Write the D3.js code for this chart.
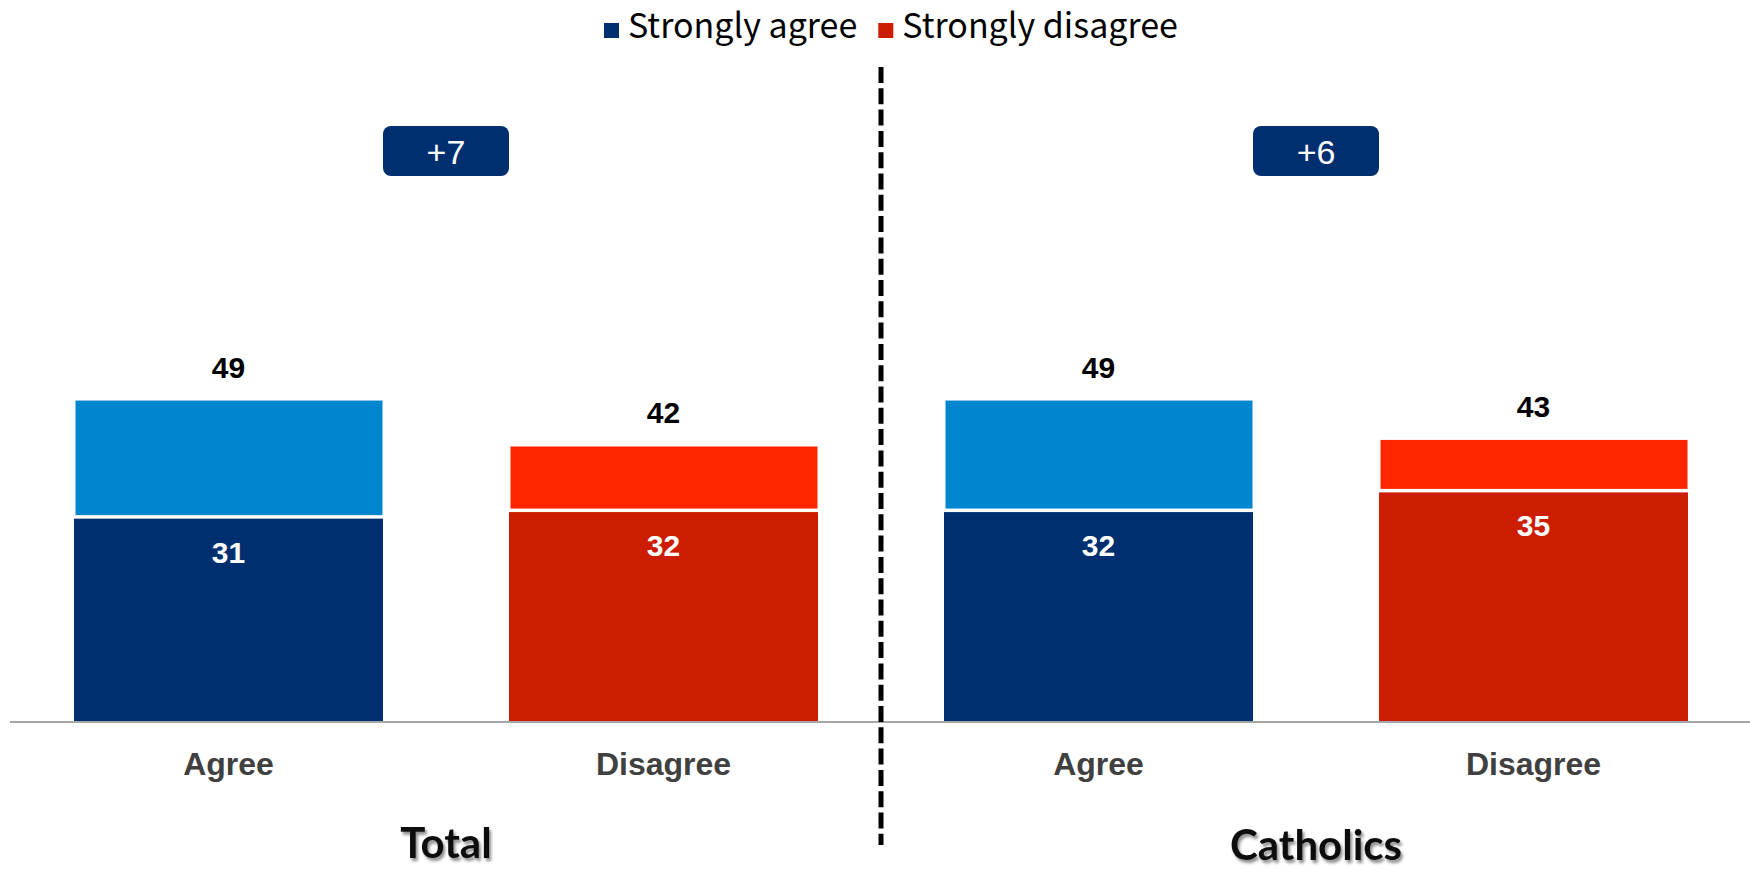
<!DOCTYPE html>
<html>
<head>
<meta charset="utf-8">
<script src="https://cdn.jsdelivr.net/npm/d3@7"></script>
<style>
  html, body { margin: 0; padding: 0; background: #fff; }
  svg { display: block; }
</style>
</head>
<body>
<svg id="chart" width="1750" height="870"></svg>
<script>
// ---- data ----
const groups = ["Total", "Catholics"];
const categories = ["Agree", "Disagree"];
const strongValues = [31, 32, 32, 35];   // Total/Agree, Total/Disagree, Catholics/Agree, Catholics/Disagree
const totalValues  = [49, 42, 49, 43];
const netLabels = ["+7", "+6"];
const legendLabels = ["Strongly agree", "Strongly disagree"];

// ---- styles ----
const darkColors  = { Agree: "#002f6f", Disagree: "#cc1d00" };
const lightColors = { Agree: "#0085cf", Disagree: "#ff2600" };

const svg = d3.select("#chart");

const rows = [];
groups.forEach((g, gi) => categories.forEach((c, ci) => {
  const i = gi * categories.length + ci;
  rows.push({ key: g + "|" + c, group: g, cat: c, strong: strongValues[i], total: totalValues[i] });
}));

const x = d3.scaleBand().domain(rows.map(d => d.key)).range([11, 1751])
  .paddingInner(0.2897).paddingOuter(0.1448);
const y = d3.scaleLinear().domain([0, 100]).range([722, 66]);

// shadow filter for group titles
const defs = svg.append("defs");
const f = defs.append("filter").attr("id", "shadow").attr("x", "-20%").attr("y", "-20%").attr("width", "140%").attr("height", "160%");
f.append("feDropShadow").attr("dx", 2).attr("dy", 3).attr("stdDeviation", 1.6)
  .attr("flood-color", "#000").attr("flood-opacity", 0.45);

// bars
const bars = svg.append("g");
rows.forEach(d => {
  const x0 = x(d.key), bw = x.bandwidth();
  bars.append("rect")
    .attr("x", x0 + 1.5).attr("width", bw - 2)
    .attr("y", y(d.total)).attr("height", Math.max(0, y(d.strong) - y(d.total) - 3.5))
    .attr("fill", lightColors[d.cat]);
  bars.append("rect")
    .attr("x", x0).attr("width", bw)
    .attr("y", y(d.strong)).attr("height", y(0) - y(d.strong))
    .attr("fill", darkColors[d.cat]);
  bars.append("text")
    .attr("x", x0 + bw / 2).attr("y", y(d.total) - 23)
    .attr("text-anchor", "middle")
    .attr("font-family", "Liberation Sans, Arial, sans-serif")
    .attr("font-weight", "bold").attr("font-size", 30).attr("fill", "#000")
    .text(d.total);
  bars.append("text")
    .attr("x", x0 + bw / 2).attr("y", y(d.strong) + 44)
    .attr("text-anchor", "middle")
    .attr("font-family", "Liberation Sans, Arial, sans-serif")
    .attr("font-weight", "bold").attr("font-size", 30).attr("fill", "#fff")
    .text(d.strong);
});

// baseline axis
const xAxis = d3.axisBottom(x).tickSize(0).tickPadding(0).tickFormat(k => k.split("|")[1]);
const ax = svg.append("g").attr("transform", `translate(0,${y(0)})`).call(xAxis);
ax.select(".domain").attr("stroke", "#a6a6a6").attr("stroke-width", 2).attr("d", `M10,0H1750`);
ax.selectAll(".tick text")
  .attr("y", 53).attr("dy", null)
  .attr("font-family", "Liberation Sans, Arial, sans-serif")
  .attr("font-weight", "bold").attr("font-size", 32).attr("fill", "#404040");

// divider dashed line
const midX = (x(rows[1].key) + x.bandwidth() + x(rows[2].key)) / 2;
svg.append("line")
  .attr("x1", midX).attr("x2", midX).attr("y1", 67).attr("y2", 845)
  .attr("stroke", "#000").attr("stroke-width", 5).attr("stroke-dasharray", "16,5.3");

// group titles & net badges
const titleY = [858, 860];
groups.forEach((g, gi) => {
  const first = x(rows[gi * 2].key), last = x(rows[gi * 2 + 1].key) + x.bandwidth();
  const cx = (first + last) / 2;
  svg.append("text")
    .attr("x", cx).attr("y", titleY[gi]).attr("text-anchor", "middle")
    .attr("font-family", "Lato, 'Open Sans', sans-serif").attr("font-weight", "bold")
    .attr("font-size", 42).attr("fill", "#111")
    .attr("filter", "url(#shadow)")
    .text(g);
  svg.append("rect")
    .attr("x", cx - 63).attr("y", 126).attr("width", 126).attr("height", 50)
    .attr("rx", 8).attr("fill", "#002f6f");
  svg.append("text")
    .attr("x", cx).attr("y", 164).attr("text-anchor", "middle")
    .attr("font-family", "Liberation Sans, Arial, sans-serif")
    .attr("font-size", 34).attr("fill", "#fff")
    .text(netLabels[gi]);
});

// legend
const legendColors = [darkColors.Agree, darkColors.Disagree];
const lg = svg.append("g");
let lx = 604;
legendLabels.forEach((lab, i) => {
  lg.append("rect").attr("x", lx).attr("y", 23).attr("width", 15).attr("height", 15).attr("fill", legendColors[i]);
  const t = lg.append("text").attr("x", lx + 24).attr("y", 38)
    .attr("font-family", "'Noto Sans CJK KR', 'Noto Sans', sans-serif")
    .attr("font-size", 34).attr("fill", "#000").text(lab);
  lx = lx + 24 + t.node().getComputedTextLength() + 21;
});
</script>
</body>
</html>
